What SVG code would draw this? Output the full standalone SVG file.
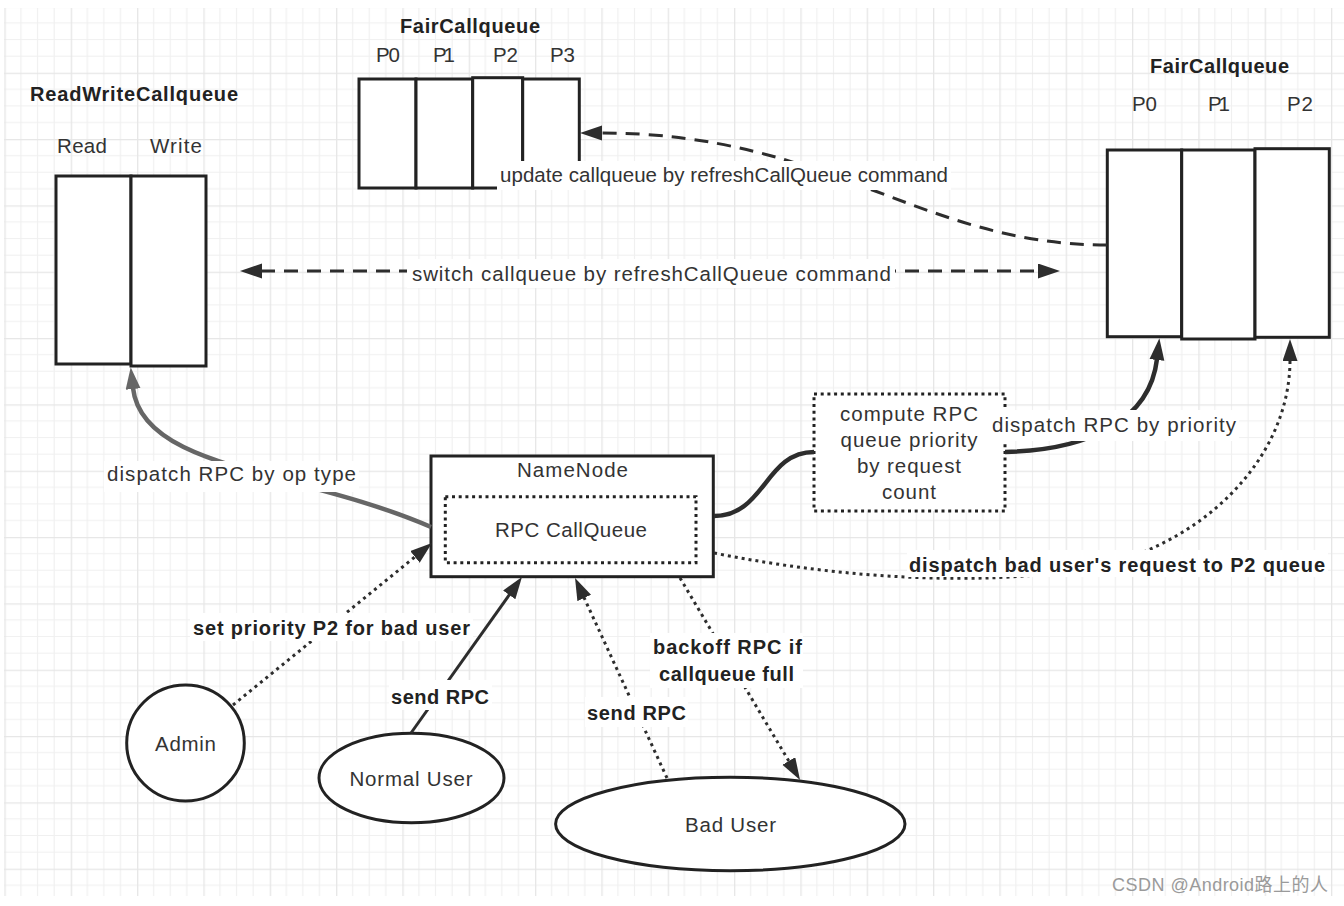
<svg xmlns="http://www.w3.org/2000/svg" width="1344" height="906" viewBox="0 0 1344 906">
<style>
.t{font-family:"Liberation Sans",Arial,sans-serif;font-size:20.5px;fill:#333}
.b{font-weight:bold;fill:#222;font-size:20px}
.c{text-anchor:middle}
.box{fill:#fff;stroke:#222;stroke-width:3}
.dotbox{fill:#fff;stroke:#222;stroke-width:3;stroke-dasharray:3 3.7}
.bg{fill:#fff}
.ln{fill:none;stroke:#2d2d2d;stroke-width:3}
.dash{stroke-dasharray:14 9}
.dot{stroke-dasharray:3 4}
.thick{stroke-width:4.5}
.gray{stroke:#666}
</style>
<defs>
<pattern id="grid" patternUnits="userSpaceOnUse" x="4.4" y="6.4" width="66.33" height="66.33">
<path d="M16.58,0V66.33M33.17,0V66.33M49.75,0V66.33M0,16.58H66.33M0,33.17H66.33M0,49.75H66.33" stroke="#f0f0f0" stroke-width="1.2" fill="none"/>
<path d="M0.5,0V66.33M0,0.5H66.33" stroke="#e6e6e6" stroke-width="1.6" fill="none"/>
</pattern>
<marker id="ah" markerUnits="userSpaceOnUse" markerWidth="24" markerHeight="16" refX="1" refY="7.5" orient="auto-start-reverse"><path d="M0,0L22,7.5L0,15z" fill="#2d2d2d"/></marker>
<marker id="ahg" markerUnits="userSpaceOnUse" markerWidth="24" markerHeight="16" refX="1" refY="7.5" orient="auto"><path d="M0,0L22,7.5L0,15z" fill="#666"/></marker>
</defs>
<rect x="0" y="0" width="1344" height="906" fill="#fff"/>
<rect x="4" y="8" width="1340" height="888" fill="url(#grid)"/>

<g id="readwrite-callqueue">
<text class="t b" x="30" y="101" textLength="208">ReadWriteCallqueue</text>
<text class="t" x="57" y="153" textLength="50">Read</text>
<text class="t" x="150" y="153" textLength="52">Write</text>
<rect class="box" x="56" y="176" width="75" height="188"/>
<rect class="box" x="131" y="176" width="75" height="190"/>
</g>

<g id="fair-callqueue-top">
<text class="t b" x="400" y="33" textLength="140">FairCallqueue</text>
<text class="t" x="376" y="62" textLength="24">P0</text>
<text class="t" x="433" y="62" textLength="22">P1</text>
<text class="t" x="493" y="62" textLength="25">P2</text>
<text class="t" x="550" y="62" textLength="25">P3</text>
<rect class="box" x="359" y="79" width="57" height="109"/>
<rect class="box" x="416" y="79" width="56.7" height="109"/>
<rect class="box" x="472.7" y="77.7" width="50" height="110.3"/>
<rect class="box" x="522.7" y="79" width="56.6" height="109"/>
</g>

<g id="fair-callqueue-right">
<text class="t b" x="1150" y="73" textLength="139">FairCallqueue</text>
<text class="t" x="1132" y="111" textLength="25">P0</text>
<text class="t" x="1208" y="111" textLength="22">P1</text>
<text class="t" x="1287" y="111" textLength="26">P2</text>
<rect class="box" x="1107.3" y="150" width="74.4" height="186.7"/>
<rect class="box" x="1181.7" y="150" width="73.3" height="189"/>
<rect class="box" x="1255" y="148.7" width="74.3" height="188.6"/>
</g>

<g id="namenode">
<rect class="box" x="431" y="456" width="282.3" height="120.7"/>
<text class="t c" x="572.5" y="477" textLength="111">NameNode</text>
<rect class="dotbox" x="445.3" y="496.7" width="250.7" height="66"/>
<text class="t c" x="571" y="537" font-size="21" textLength="152">RPC CallQueue</text>
</g>

<g id="compute-priority">
<rect class="dotbox" x="814" y="394" width="191" height="117"/>
<text class="t c" x="909" y="421" textLength="138">compute RPC</text>
<text class="t c" x="909" y="447" textLength="137">queue priority</text>
<text class="t c" x="909" y="473" textLength="104">by request</text>
<text class="t c" x="909" y="499" textLength="54">count</text>
</g>

<g id="admin">
<ellipse class="box" cx="185.5" cy="743" rx="58.8" ry="58"/>
<text class="t c" x="185.5" y="751" textLength="61">Admin</text>
</g>

<g id="normal-user">
<ellipse class="box" cx="411.5" cy="778" rx="92.5" ry="44.7"/>
<text class="t c" x="411" y="786" textLength="123">Normal User</text>
</g>

<g id="bad-user">
<ellipse class="box" cx="730.3" cy="824" rx="174.7" ry="46.7"/>
<text class="t c" x="730.5" y="832" textLength="91">Bad User</text>
</g>

<g id="connectors">
<path class="ln dash" d="M1107,245C920,245 830,133 601,133" marker-end="url(#ah)"/>
<path class="ln dash" d="M261,271H1039" marker-start="url(#ah)" marker-end="url(#ah)"/>
<path class="ln thick" d="M714,516C765,516 765,452 814,452"/>
<path class="ln thick" d="M1005,452C1090,450 1150,420 1157,359" marker-end="url(#ah)"/>
<path class="ln thick gray" d="M431,527C300,470 142,470 133,388" marker-end="url(#ahg)"/>
<path class="ln dot" d="M233,705L415.7,556.3" marker-end="url(#ah)"/>
<path class="ln" d="M411,733L509.8,594.1" marker-end="url(#ah)"/>
<path class="ln dot" d="M667,778L583.8,597.1" marker-end="url(#ah)"/>
<path class="ln dot" d="M680,578L789.3,761.9" marker-end="url(#ah)"/>
<path class="ln dot" d="M714,553C850,580 980,585 1080,570C1200,550 1290,460 1290,360" marker-end="url(#ah)"/>

<g id="connector-labels">
<rect class="bg" x="497" y="161" width="454" height="29"/>
<text class="t" x="500" y="182" textLength="448">update callqueue by refreshCallQueue command</text>
<rect class="bg" x="407" y="259" width="488" height="29"/>
<text class="t" x="412" y="281" textLength="479">switch callqueue by refreshCallQueue command</text>
<rect class="bg" x="989" y="410" width="250" height="31"/>
<text class="t" x="992" y="432" textLength="244">dispatch RPC by priority</text>
<rect class="bg" x="104" y="461" width="255" height="31"/>
<text class="t" x="107" y="481" textLength="249">dispatch RPC by op type</text>
<rect class="bg" x="190" y="613" width="283" height="28"/>
<text class="t b" x="193" y="635" textLength="277">set priority P2 for bad user</text>
<rect class="bg" x="389" y="680" width="103" height="30"/>
<text class="t b" x="391" y="704" textLength="98">send RPC</text>
<rect class="bg" x="585" y="697" width="103" height="30"/>
<text class="t b" x="587" y="720" textLength="99">send RPC</text>
<rect class="bg" x="650" y="633" width="153" height="55"/>
<text class="t b" x="653" y="654" textLength="149">backoff RPC if</text>
<text class="t b" x="659" y="681" textLength="135">callqueue full</text>
<rect class="bg" x="907" y="550" width="421" height="27"/>
<text class="t b" x="909" y="572" textLength="416">dispatch bad user's request to P2 queue</text>
</g>
</g>

<text x="1112" y="891" textLength="216" style="font-family:'Liberation Sans','Noto Sans CJK SC',sans-serif;font-size:18px;fill:#9a9a9a">CSDN @Android路上的人</text>
</svg>
